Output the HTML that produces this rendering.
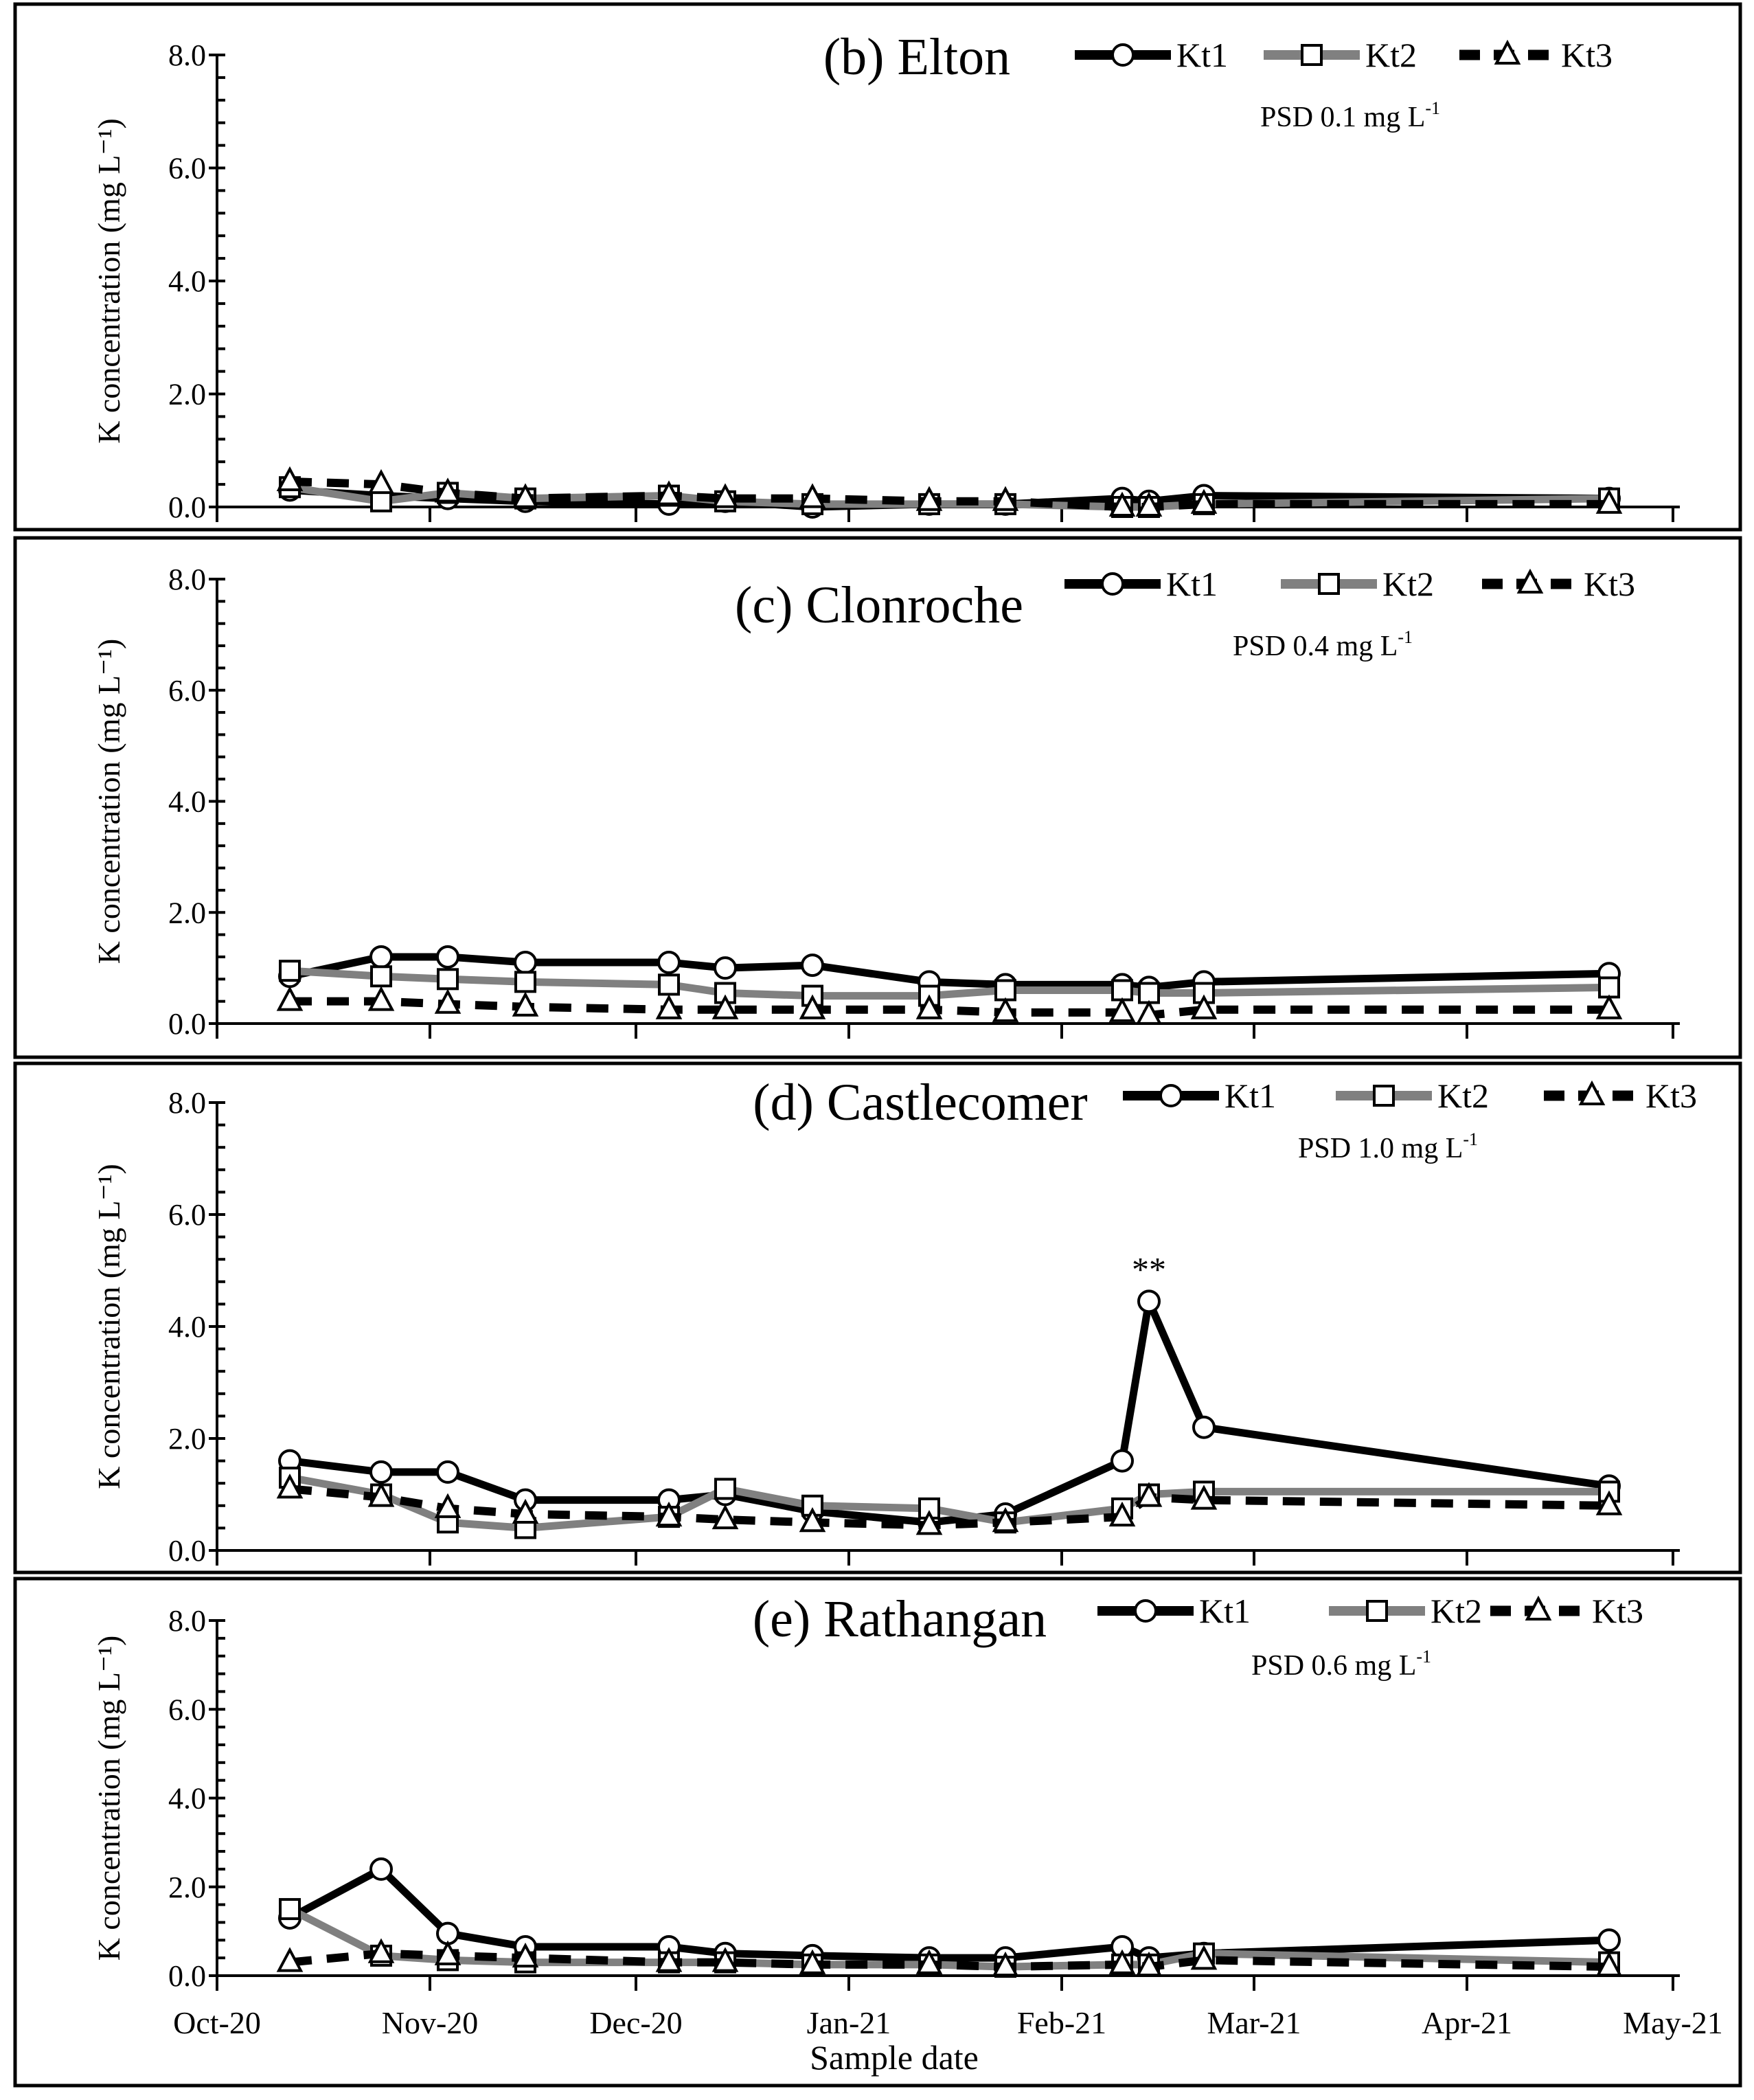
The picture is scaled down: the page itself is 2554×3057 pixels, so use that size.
<!DOCTYPE html>
<html><head><meta charset="utf-8"><style>
html,body{margin:0;padding:0;background:#fff}
svg{display:block}
svg text{font-family:"Liberation Serif","Times New Roman",serif}
</style></head><body>
<svg id="c" width="2554" height="3057" viewBox="0 0 2554 3057" font-family="Liberation Serif, serif" xmlns="http://www.w3.org/2000/svg"></svg>
<script>
const sampleDays=[10.6,23.9,33.6,44.9,65.8,74,86.7,103.7,114.8,131.8,135.7,143.7,202.7];
const monthLabels=["Oct-20","Nov-20","Dec-20","Jan-21","Feb-21","Mar-21","Apr-21","May-21"];
const monthDays=[0,31,61,92,123,151,182,212];
const yTicks=[0,2,4,6,8];
const panelTitles=["(b) Elton","(c) Clonroche","(d) Castlecomer","(e) Rathangan"];
const psdLabels=["PSD 0.1 mg L","PSD 0.4 mg L","PSD 1.0 mg L","PSD 0.6 mg L"];
const eltonKt1=[0.3,0.2,0.15,0.1,0.05,0.1,0.0,0.05,0.05,0.15,0.1,0.2,0.15];
const eltonKt2=[0.35,0.1,0.25,0.15,0.2,0.1,0.05,0.05,0.05,0.0,0.0,0.05,0.15];
const eltonKt3=[0.45,0.4,0.25,0.15,0.2,0.15,0.15,0.1,0.1,0.0,0.0,0.05,0.05];
const clonKt1=[0.85,1.2,1.2,1.1,1.1,1.0,1.05,0.75,0.7,0.7,0.65,0.75,0.9];
const clonKt2=[0.95,0.85,0.8,0.75,0.7,0.55,0.5,0.5,0.6,0.6,0.55,0.55,0.65];
const clonKt3=[0.4,0.4,0.35,0.3,0.25,0.25,0.25,0.25,0.2,0.2,0.15,0.25,0.25];
const castKt1=[1.6,1.4,1.4,0.9,0.9,1.0,0.7,0.5,0.65,1.6,4.45,2.2,1.15];
const castKt2=[1.3,1.0,0.5,0.4,0.6,1.1,0.8,0.75,0.5,0.75,1.0,1.05,1.05];
const castKt3=[1.1,0.95,0.75,0.65,0.6,0.55,0.5,0.45,0.5,0.6,0.95,0.9,0.8];
const rathKt1=[1.3,2.4,0.95,0.65,0.65,0.5,0.45,0.4,0.4,0.65,0.4,0.5,0.8];
const rathKt2=[1.5,0.45,0.35,0.3,0.3,0.3,0.25,0.25,0.2,0.25,0.25,0.5,0.3];
const rathKt3=[0.3,0.5,0.45,0.4,0.3,0.3,0.25,0.25,0.2,0.25,0.2,0.35,0.2];
const seriesByPanel=[[eltonKt1,eltonKt2,eltonKt3],[clonKt1,clonKt2,clonKt3],[castKt1,castKt2,castKt3],[rathKt1,rathKt2,rathKt3]];

const svg=document.getElementById('c');
const NS="http://www.w3.org/2000/svg";
function mk(tag,at,parent){const e=document.createElementNS(NS,tag);for(const k in at)e.setAttribute(k,at[k]);(parent||svg).appendChild(e);return e;}
const X0=316;
function xs(d){return X0+d*10.0;}
const panels=[
 {fy0:6,fy1:771,y0:738,y8:80,title:[1335,108],leg:[1565,1840,2125],legY:80,psd:[1835,184]},
 {fy0:783,fy1:1539,y0:1490,y8:843,title:[1280,906],leg:[1550,1865,2158],legY:850,psd:[1795,954]},
 {fy0:1548,fy1:2289,y0:2257,y8:1605,title:[1340,1630],leg:[1635,1945,2248],legY:1595,psd:[1890,1685]},
 {fy0:2298,fy1:3036,y0:2876,y8:2359,title:[1310,2382],leg:[1598,1935,2170],legY:2345,psd:[1822,2438]}
];
const styles=[
 {stroke:"#000",w:11,dash:null,marker:"circle",name:"kt1"},
 {stroke:"#808080",w:11,dash:null,marker:"square",name:"kt2"},
 {stroke:"#000",w:12,dash:"32 22",marker:"triangle",name:"kt3"}
];
function marker(type,x,y,g){
 let e;
 if(type==="circle")e=mk('circle',{cx:x,cy:y,r:15,fill:"#fff",stroke:"#000","stroke-width":4},g);
 else if(type==="square")e=mk('rect',{x:x-14,y:y-14,width:28,height:28,fill:"#fff",stroke:"#000","stroke-width":4},g);
 else e=mk('polygon',{points:`${x},${y-18} ${x-16},${y+12} ${x+16},${y+12}`,fill:"#fff",stroke:"#000","stroke-width":4},g);
 return e;
}
panels.forEach((p,pi)=>{
 const g=mk('g',{});
 
 
 const fr=mk('rect',{x:22,y:p.fy0,width:2512,height:p.fy1-p.fy0,fill:"none",stroke:"#000","stroke-width":5},g);
 
 
 const ys=v=>p.y0+(p.y8-p.y0)*v/8;
 const ya=mk('line',{x1:X0,y1:p.y8,x2:X0,y2:p.y0,stroke:"#000","stroke-width":4},g);
 
 
 for(let i=0;i<=20;i++){const v=i*0.4;const y=ys(v);const major=Math.abs(v/2-Math.round(v/2))<1e-6;
  mk('line',{x1:major?X0-12:X0,y1:y,x2:X0+12,y2:y,stroke:"#000","stroke-width":4},g);}
 yTicks.forEach(v=>{const t=mk('text',{x:X0-16,y:ys(v)+15,"font-size":44,"text-anchor":"end"},g);t.textContent=v.toFixed(1);
  
  });
 const xa=mk('line',{x1:X0,y1:p.y0,x2:xs(212)+10,y2:p.y0,stroke:"#000","stroke-width":4},g);
 
 
 monthDays.forEach(d=>mk('line',{x1:xs(d),y1:p.y0,x2:xs(d),y2:p.y0+22,stroke:"#000","stroke-width":4},g));
 const cy=(p.y0+p.y8)/2;
 const yt=mk('text',{x:0,y:0,"font-size":46,"text-anchor":"middle",transform:`translate(174,${cy}) rotate(-90)`},g);
 yt.textContent="K concentration (mg L\u207B\u00B9)";
 
 
 seriesByPanel[pi].forEach((vals,si)=>{
  const st=styles[si];
  const sg=mk('g',{},g);
  
  
  const pts=vals.map((v,i)=>xs(sampleDays[i])+","+ys(v)).join(" ");
  const at={points:pts,fill:"none",stroke:st.stroke,"stroke-width":st.w,"stroke-linejoin":"round"};
  if(st.dash)at["stroke-dasharray"]=st.dash;
  mk('polyline',at,sg);
  vals.forEach((v,i)=>{const m=marker(st.marker,xs(sampleDays[i]),ys(v),sg);
   
   });
 });
 const tt=mk('text',{x:p.title[0],y:p.title[1],"font-size":76,"text-anchor":"middle"},g);
 tt.textContent=panelTitles[pi];
 
 
 ["Kt1","Kt2","Kt3"].forEach((lab,si)=>{
  const st=styles[si];const lx=p.leg[si];
  const lg=mk('g',{},g);
  
  
  const at={x1:lx,y1:p.legY,x2:lx+140,y2:p.legY,stroke:st.stroke,"stroke-width":st.w+3};
  if(st.dash)at["stroke-dasharray"]="30 20";
  mk('line',at,lg);
  marker(st.marker,lx+70,p.legY,lg);
  const t=mk('text',{x:lx+148,y:p.legY+17,"font-size":50},lg);t.textContent=lab;
 });
 const ps=mk('text',{x:p.psd[0],y:p.psd[1],"font-size":42},g);
 ps.textContent=psdLabels[pi];
 const sup=mk('tspan',{"font-size":26,dy:-18},ps);sup.textContent="-1";
 
 
 if(pi===2){const s=mk('text',{x:xs(sampleDays[10]),y:ys(castKt1[10])-30,"font-size":50,"text-anchor":"middle"},g);s.textContent="**";
  
  }
 if(pi===3){
  monthLabels.forEach((l,i)=>{const t=mk('text',{x:xs(monthDays[i]),y:2960,"font-size":46,"text-anchor":"middle"},g);t.textContent=l;
   
   });
  const xt=mk('text',{x:1302,y:3012,"font-size":50,"text-anchor":"middle"},g);xt.textContent="Sample date";
  
  
 }
});
</script>
</body></html>
